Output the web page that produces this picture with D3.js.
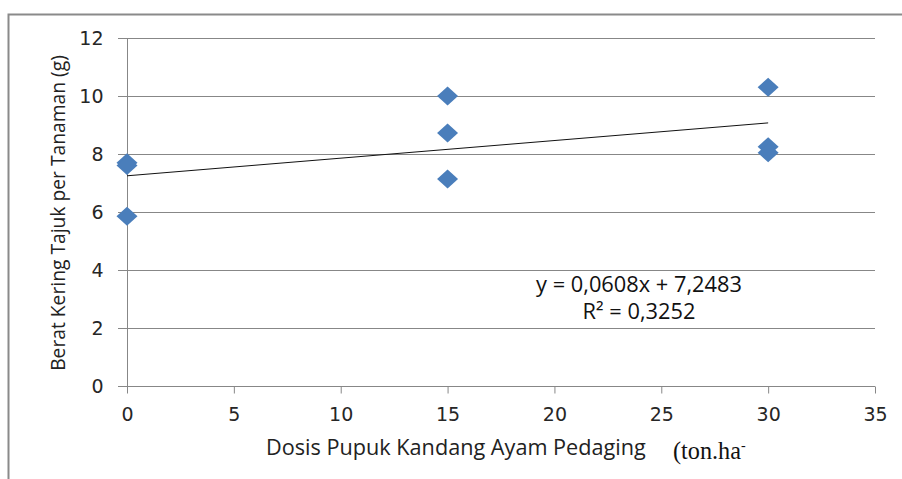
<!DOCTYPE html>
<html><head><meta charset="utf-8">
<script src="https://cdn.jsdelivr.net/npm/d3@7"></script>
<style>body{margin:0;background:#fff}svg{display:block}text{font-family:"Open Sans",sans-serif}</style>
</head><body><svg id="c" width="902" height="479"></svg>
<script>
const doseX = [0, 0, 0, 15, 15, 15, 30, 30, 30];
const weightY = [7.7, 7.6, 5.85, 10.0, 8.72, 7.14, 10.3, 8.25, 8.04];
const xTicks = [0, 5, 10, 15, 20, 25, 30, 35];
const yTicks = [0, 2, 4, 6, 8, 10, 12];
const slope = 0.0608, intercept = 7.2483;
const eqLabel = "y = 0,0608x + 7,2483";
const r2Label = "R² = 0,3252";
const xTitle = "Dosis Pupuk Kandang Ayam Pedaging";
const xUnit = "(ton.ha";
const yTitle = "Berat Kering Tajuk per Tanaman (g)";

const svg = d3.select("#c");
const x = d3.scaleLinear().domain([0, 35]).range([127, 875]);
const y = d3.scaleLinear().domain([0, 12]).range([386, 38]);
const grey = "#878787";
const FS = 17;
const tickFont = "'DejaVu Sans', sans-serif";

function fit(sel, w) {
  const l = sel.node().getComputedTextLength();
  const fs = parseFloat(sel.attr("font-size"));
  sel.attr("font-size", fs * w / l);
}

// outer frame
svg.append("path").attr("d", "M8.5,479 V14.5 H902").attr("fill", "none").attr("stroke", "#8a8a8a").attr("stroke-width", 2);

// gridlines
svg.append("g").selectAll("line").data(yTicks.filter(d => d > 0)).join("line")
  .attr("x1", 118).attr("x2", x(35)).attr("y1", d => Math.round(y(d)) + 0.5).attr("y2", d => Math.round(y(d)) + 0.5)
  .attr("stroke", grey).attr("stroke-width", 1);

// y axis
const yAxis = svg.append("g").attr("transform", `translate(${x(0)+0.5},0)`)
  .call(d3.axisLeft(y).tickValues(yTicks).tickSize(9).tickPadding(15));
yAxis.select(".domain").attr("stroke", grey).attr("d", `M0,${y(12)}V${y(0)+7}`);
yAxis.selectAll(".tick line").attr("stroke", grey);
yAxis.selectAll(".tick text").style("font-size", "19px").style("font-family", tickFont).attr("fill", "#262626");

// x axis
const xAxis = svg.append("g").attr("transform", `translate(0,${Math.round(y(0))+0.5})`)
  .call(d3.axisBottom(x).tickValues(xTicks).tickSize(7).tickPadding(14));
xAxis.select(".domain").attr("stroke", grey).attr("d", `M118,0H${x(35)}`);
xAxis.selectAll(".tick line").attr("stroke", grey);
xAxis.selectAll(".tick text").style("font-size", "19px").style("font-family", tickFont).attr("fill", "#262626");

// trendline
svg.append("line").attr("x1", x(0)).attr("y1", y(intercept)).attr("x2", x(30)).attr("y2", y(intercept + slope * 30))
  .attr("stroke", "#111").attr("stroke-width", 1);

// points
const pts = doseX.map((d, i) => ({x: d, y: weightY[i]}));
svg.append("g").selectAll("path").data(pts).join("path")
  .attr("transform", d => `translate(${x(d.x)},${y(d.y)})`)
  .attr("d", "M0,-9.5L10.5,0L0,9.5L-10.5,0Z")
  .attr("fill", "#4a7ebb");

// equation
const eq = svg.append("text").attr("x", 639).attr("y", 292).attr("text-anchor", "middle").attr("font-size", FS).attr("fill", "#111").text(eqLabel);
fit(eq, 206);
svg.append("text").attr("x", 639).attr("y", 319).attr("text-anchor", "middle").attr("font-size", eq.attr("font-size")).attr("fill", "#111").text(r2Label);

// axis titles
const xt = svg.append("text").attr("x", 266).attr("y", 455).attr("font-size", FS).attr("fill", "#222").text(xTitle);
fit(xt, 380);
const u = svg.append("text").attr("x", 673).attr("y", 459).attr("font-size", 19).attr("fill", "#111")
  .style("font-family", "'Liberation Serif', 'Times New Roman', serif");
u.append("tspan").text(xUnit);
fit(u, 68);
u.append("tspan").attr("dy", -9).attr("font-size", 14).text("-");

const yt = svg.append("text").attr("transform", "translate(65,213) rotate(-90)").attr("text-anchor", "middle")
  .attr("font-size", FS).attr("fill", "#222").text(yTitle);
fit(yt, 316);
</script></body></html>
